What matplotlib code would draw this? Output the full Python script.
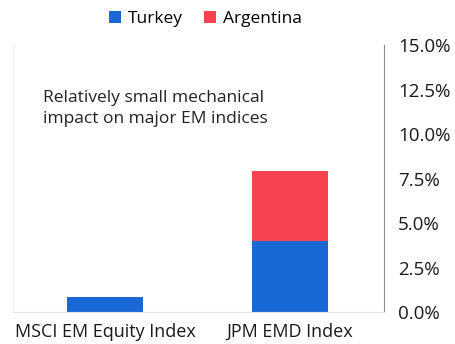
import numpy as np
import matplotlib.pyplot as plt

# 数据
categories = ["MSCI EM Equity Index", "JPM EMD Index"]
turkey = [0.85, 4.0]
argentina = [0.0, 3.95]
yticks = [0, 2.5, 5, 7.5, 10, 12.5, 15]

plt.rcParams['font.family'] = ['Open Sans', 'DejaVu Sans']

fig = plt.figure(figsize=(4.56, 3.44), dpi=100)
ax = fig.add_axes([0.0285, 0.093, 0.8135, 0.776])

x = np.arange(len(categories))
ax.bar(x, turkey, width=0.41, color='#1a67d6', label='Turkey')
ax.bar(x, argentina, width=0.41, bottom=turkey, color='#f6434f', label='Argentina')

ax.set_xlim(-0.5, 1.51)
ax.set_ylim(0, 15)
ax.set_xticks(x)
ax.set_xticklabels(categories, fontsize=13, color='#1a1a1a')
ax.set_yticks(yticks)
ax.set_yticklabels(["{:.1f}%".format(v) for v in yticks], fontsize=13.5, color='#1a1a1a')
ax.yaxis.tick_right()
ax.tick_params(axis='y', length=0, pad=10)
ax.tick_params(axis='x', length=0, pad=8)

# 坐标轴样式
ax.spines['top'].set_visible(False)
ax.spines['left'].set_color('#eeeeee')
ax.spines['bottom'].set_color('#e6e6e6')
ax.spines['right'].set_color('#888888')
ax.spines['right'].set_linewidth(0.8)

ax.text(0.08, 0.83, "Relatively small mechanical\nimpact on major EM indices",
        transform=ax.transAxes, fontsize=12.5, color='#222222', va='top', ha='left',
        linespacing=1.4)

fig.legend(loc='center', bbox_to_anchor=(0.45, 0.945), ncol=2, frameon=False,
           fontsize=12.5, handlelength=0.7, handleheight=0.7, handletextpad=0.4,
           columnspacing=1.2)

plt.savefig("out.png", dpi=100)
